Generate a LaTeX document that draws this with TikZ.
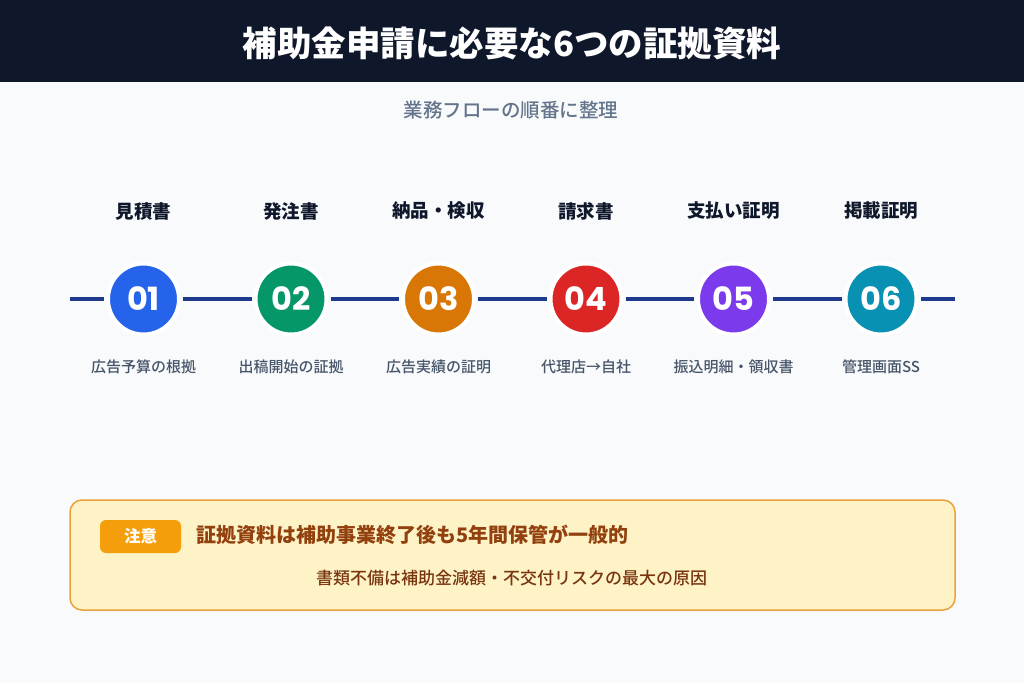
\documentclass[tikz,border=0pt]{standalone}
\usepackage{fontspec}
\setmainfont{Noto Sans CJK JP}
\newfontfamily\medfont{Noto Sans CJK JP Medium}
\newfontfamily\numfont{Poppins}
\usetikzlibrary{positioning}
\definecolor{pagebg}{HTML}{F8FAFC}
\definecolor{titlebg}{HTML}{0F172A}
\definecolor{subgray}{HTML}{64748B}
\definecolor{descgray}{HTML}{475569}
\definecolor{flownavy}{HTML}{1E3A8A}
\definecolor{stepblue}{HTML}{2563EB}
\definecolor{stepgreen}{HTML}{059669}
\definecolor{steporange}{HTML}{D97706}
\definecolor{stepred}{HTML}{DC2626}
\definecolor{steppurple}{HTML}{7C3AED}
\definecolor{stepcyan}{HTML}{0891B2}
\definecolor{notefill}{HTML}{FEF3C7}
\definecolor{noteedge}{HTML}{E9A23B}
\definecolor{notebadge}{HTML}{F59E0B}
\definecolor{notebrown}{HTML}{92400E}
\definecolor{notetext}{HTML}{78350F}
\tikzset{
  % flow line style
  flowline/.style={
    draw=flownavy
    , line width=4pt
    , shorten <=2pt
    , shorten >=2pt
  },
  % numbered step circle
  stepcirc/.style={
    circle
    , draw=white
    , line width=4pt
    , minimum size=71pt
    , inner sep=0pt
    , text=white
    , font=\numfont\bfseries\fontsize{32pt}{32pt}\selectfont
  },
  % document name above circle
  steptitle/.style={
    text=titlebg
    , font=\bfseries\fontsize{18.5pt}{18.5pt}\selectfont
  },
  % short note below circle
  stepdesc/.style={
    text=descgray
    , font=\medfont\fontsize{15pt}{15pt}\selectfont
  },
}

\begin{document}
\begin{tikzpicture}[x=1pt, y=-1pt, node distance=147.5pt]
      \fill[pagebg] (0,0) rectangle (1024,683);
      \useasboundingbox (0,0) rectangle (1024,683);
      \fill[titlebg] (0,0) rectangle (1024,82);
      \node[text=white, font=\bfseries\fontsize{34.5pt}{34.5pt}\selectfont] (title) at (512,43) {補助金申請に必要な6つの証拠資料};
      \node[text=subgray, font=\medfont\fontsize{19.5pt}{19.5pt}\selectfont] (subtitle) at (511,110) {業務フローの順番に整理};

      \coordinate (lstart) at (70,299);
      \coordinate (lend) at (955,299);

      \node[stepcirc, fill=stepblue] (c1) at (143.5,299) {01};
      \node[stepcirc, fill=stepgreen, right of=c1] (c2) {02};
      \node[stepcirc, fill=steporange, right of=c2] (c3) {03};
      \node[stepcirc, fill=stepred, right of=c3] (c4) {04};
      \node[stepcirc, fill=steppurple, right of=c4] (c5) {05};
      \node[stepcirc, fill=stepcyan, right of=c5] (c6) {06};

      \node[steptitle, node distance=88pt, above of=c1] (t1) {見積書};
      \node[steptitle, node distance=88pt, above of=c2] (t2) {発注書};
      \node[steptitle, node distance=88pt, above of=c3] (t3) {納品・検収};
      \node[steptitle, node distance=88pt, above of=c4] (t4) {請求書};
      \node[steptitle, node distance=88pt, above of=c5] (t5) {支払い証明};
      \node[steptitle, node distance=88pt, above of=c6] (t6) {掲載証明};

      \node[stepdesc, node distance=68pt, below of=c1] (d1) {広告予算の根拠};
      \node[stepdesc, node distance=68pt, below of=c2] (d2) {出稿開始の証拠};
      \node[stepdesc, node distance=68pt, below of=c3] (d3) {広告実績の証明};
      \node[stepdesc, node distance=68pt, below of=c4] (d4) {代理店→自社};
      \node[stepdesc, node distance=68pt, below of=c5] (d5) {振込明細・領収書};
      \node[stepdesc, node distance=68pt, below of=c6] (d6) {管理画面SS};

      \draw[flowline, shorten <=0pt] (lstart) -- (c1);
      \draw[flowline] (c1) -- (c2);
      \draw[flowline] (c2) -- (c3);
      \draw[flowline] (c3) -- (c4);
      \draw[flowline] (c4) -- (c5);
      \draw[flowline] (c5) -- (c6);
      \draw[flowline, shorten >=0pt] (c6) -- (lend);

      % caution box
      \node[draw=noteedge, fill=notefill, line width=1.5pt, rounded corners=12pt, minimum width=885pt, minimum height=110pt, inner sep=0pt] (note) at (512.5,555) {};
      \node[fill=notebadge, rounded corners=6pt, minimum width=81pt, minimum height=33pt, inner sep=0pt, text=white, font=\bfseries\fontsize{16.5pt}{16.5pt}\selectfont] (badge) at (140.5,536.5) {注意};
      \node[anchor=west, inner sep=0pt, text=notebrown, font=\bfseries\fontsize{20pt}{20pt}\selectfont] (notehead) at (196,535) {証拠資料は補助事業終了後も5年間保管が一般的};
      \node[text=notetext, font=\medfont\fontsize{17pt}{17pt}\selectfont] (notebody) at (511.5,578) {書類不備は補助金減額・不交付リスクの最大の原因};
    \end{tikzpicture}
\end{document}
